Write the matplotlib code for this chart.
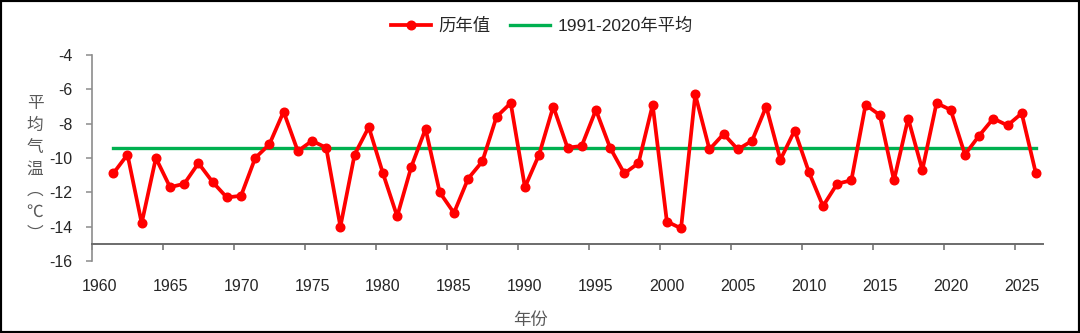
import matplotlib
matplotlib.use("Agg")
import matplotlib.pyplot as plt
from matplotlib.patches import Rectangle
from matplotlib.ticker import FixedLocator, NullFormatter

plt.rcParams['font.family'] = ['Liberation Sans', 'Noto Sans CJK SC', 'DejaVu Sans']

years = list(range(1961, 2027))
temps = [-10.9, -9.8, -13.8, -10.0, -11.7, -11.5, -10.3, -11.4, -12.3, -12.2,
         -10.0, -9.2, -7.3, -9.6, -9.0, -9.4, -14.0, -9.8, -8.2, -10.9,
         -13.4, -10.5, -8.3, -12.0, -13.2, -11.2, -10.2, -7.6, -6.8, -11.7,
         -9.8, -7.0, -9.4, -9.3, -7.2, -9.4, -10.9, -10.3, -6.9, -13.7,
         -14.1, -6.3, -9.5, -8.6, -9.5, -9.0, -7.0, -10.1, -8.4, -10.8,
         -12.8, -11.5, -11.3, -6.9, -7.5, -11.3, -7.7, -10.7, -6.8, -7.2,
         -9.8, -8.7, -7.7, -8.1, -7.4, -10.9]
normal_mean = -9.4
x_tick_labels = list(range(1960, 2030, 5))
y_ticks = [-16, -14, -12, -10, -8, -6, -4]

label_series = "历年值"
label_mean = "1991-2020年平均"
x_title = "年份"
y_title = "平\n均\n气\n温\n︵\n℃\n︶"

text_color = "#262626"

fig = plt.figure(figsize=(10.8, 3.33), dpi=100)
ax = fig.add_axes([92/1080, 1-261/333, (1043-92)/1080, (261-55)/333])

ax.plot(years, temps, color="#FF0000", lw=2.7, marker="o", markersize=6.2,
        label=label_series, zorder=3)
ax.plot([years[0], years[-1]], [normal_mean, normal_mean], color="#00B050",
        lw=2.4, label=label_mean, zorder=2)

ax.set_xlim(1959.5, 2026.5)
ax.set_ylim(-16, -4)

for s in ["top", "right"]:
    ax.spines[s].set_visible(False)
ax.spines["left"].set_color("#8c8c8c")
ax.spines["left"].set_linewidth(1.2)
ax.spines["bottom"].set_position(("data", -15))
ax.spines["bottom"].set_color("#6b6b6b")
ax.spines["bottom"].set_linewidth(1.4)

ax.set_yticks(y_ticks)
ax.set_yticklabels([str(v) for v in y_ticks])
ax.tick_params(axis="y", direction="out", length=4, width=1.1, color="#8c8c8c",
               pad=10, labelsize=11.5, labelcolor=text_color)

# major ticks between categories (no labels), minor ticks carry the labels
ax.xaxis.set_major_locator(FixedLocator([y - 0.5 for y in x_tick_labels if y - 0.5 < 2026.5]))
ax.xaxis.set_major_formatter(NullFormatter())
ax.xaxis.set_minor_locator(FixedLocator(x_tick_labels))
ax.set_xticklabels([str(v) for v in x_tick_labels], minor=True)
ax.tick_params(axis="x", which="major", direction="out", length=4, width=1.1,
               color="#6b6b6b")
ax.tick_params(axis="x", which="minor", length=0, pad=25, labelsize=11.5,
               labelcolor=text_color)

fig.text(35/1080, 1-169/333, y_title, ha="center", va="center", fontsize=12,
         color="#595959", linespacing=1.36,
         family=["Noto Sans CJK SC", "DejaVu Sans"])
fig.text(531/1080, 1-320/333, x_title, ha="center", va="center", fontsize=12.5,
         color="#595959", family=["Noto Sans CJK SC", "DejaVu Sans"])

leg = fig.legend(loc="center", bbox_to_anchor=(542/1080, 1-25.5/333), ncol=2,
                 frameon=False, fontsize=12.5, handlelength=2.3,
                 handletextpad=0.45, columnspacing=1.1)
for t in leg.get_texts():
    t.set_color(text_color)

fig.patches.append(Rectangle((0, 0), 1, 1, transform=fig.transFigure,
                             fill=False, edgecolor="black", lw=3, zorder=10))

fig.savefig("out.png", dpi=100)
